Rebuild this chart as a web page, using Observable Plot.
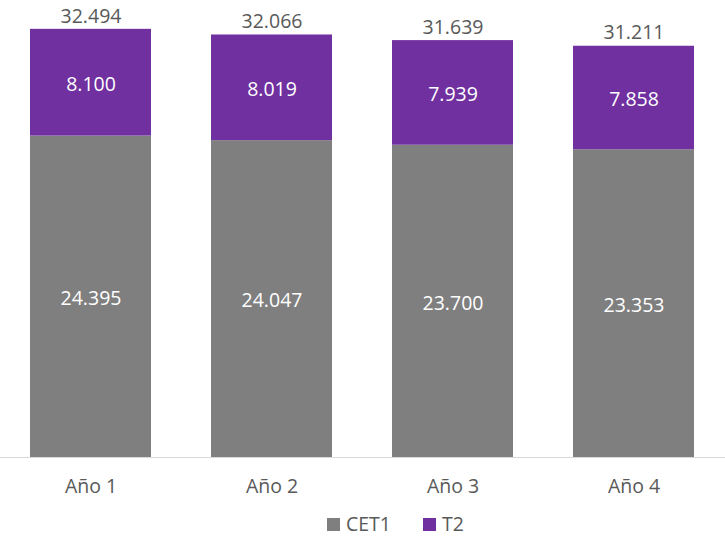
<!DOCTYPE html>
<html>
<head>
<meta charset="utf-8">
<script src="https://cdn.jsdelivr.net/npm/d3@7"></script>
<script src="https://cdn.jsdelivr.net/npm/@observablehq/plot@0.6"></script>
<style>
  body { margin: 0; background: #fff; font-family: "Open Sans", sans-serif; position: relative; }
  #chart svg { display: block; }
  .legend { position: relative; height: 30px; font-size: 19.5px; color: #595959; }
  .legend span { position: absolute; top: 0; display: inline-flex; align-items: center; gap: 6px; height: 30px; line-height: 30px; }
  .legend i { display: inline-block; width: 13px; height: 13px; }
</style>
</head>
<body>
<div id="chart"></div>
<script>
const years = ["Año 1", "Año 2", "Año 3", "Año 4"];
const series = ["CET1", "T2"];
const cet1 = [24395, 24047, 23700, 23353];
const t2 = [8100, 8019, 7939, 7858];
const totals = [32494, 32066, 31639, 31211];
const colors = ["#7f7f7f", "#7030a0"];

const fmt = d3.formatLocale({decimal: ",", thousands: ".", grouping: [3], currency: ["", "€"]}).format(",d");

const rows = [];
years.forEach((y, i) => {
  rows.push({year: y, series: "CET1", value: cet1[i]});
  rows.push({year: y, series: "T2", value: t2[i]});
});
const totalRows = years.map((y, i) => ({year: y, value: totals[i]}));

const chart = Plot.plot({
  width: 725,
  height: 509,
  marginTop: 9,
  marginBottom: 52,
  marginLeft: 0,
  marginRight: 0,
  style: {fontFamily: "'Open Sans', sans-serif", background: "#fff"},
  x: {domain: years, paddingInner: 0.33, paddingOuter: 0.165, label: null},
  y: {domain: [0, 34000], axis: null},
  color: {domain: series, range: colors},
  marks: [
    Plot.barY(rows, {x: "year", y: "value", fill: "series", order: series}),
    Plot.text(rows, Plot.stackY({x: "year", y: "value", z: "series", order: series, text: d => fmt(d.value), fill: "#ffffff", fontSize: 19.5, dy: 2})),
    Plot.text(totalRows, {x: "year", y: "value", text: d => fmt(d.value), dy: -13, fill: "#595959", fontSize: 19.5}),
    Plot.ruleY([0], {stroke: "#d9d9d9", strokeWidth: 1}),
    Plot.axisX({tickSize: 0, tickPadding: 22, fontSize: 19.5, color: "#595959", label: null})
  ]
});
document.getElementById("chart").appendChild(chart);

const legend = document.createElement("div");
legend.className = "legend";
const lefts = [327, 423];
series.forEach((s, i) => {
  const sp = document.createElement("span");
  sp.style.left = lefts[i] + "px";
  const sw = document.createElement("i");
  sw.style.background = colors[i];
  sp.appendChild(sw);
  sp.appendChild(document.createTextNode(s));
  legend.appendChild(sp);
});
document.body.appendChild(legend);
</script>
</body>
</html>
